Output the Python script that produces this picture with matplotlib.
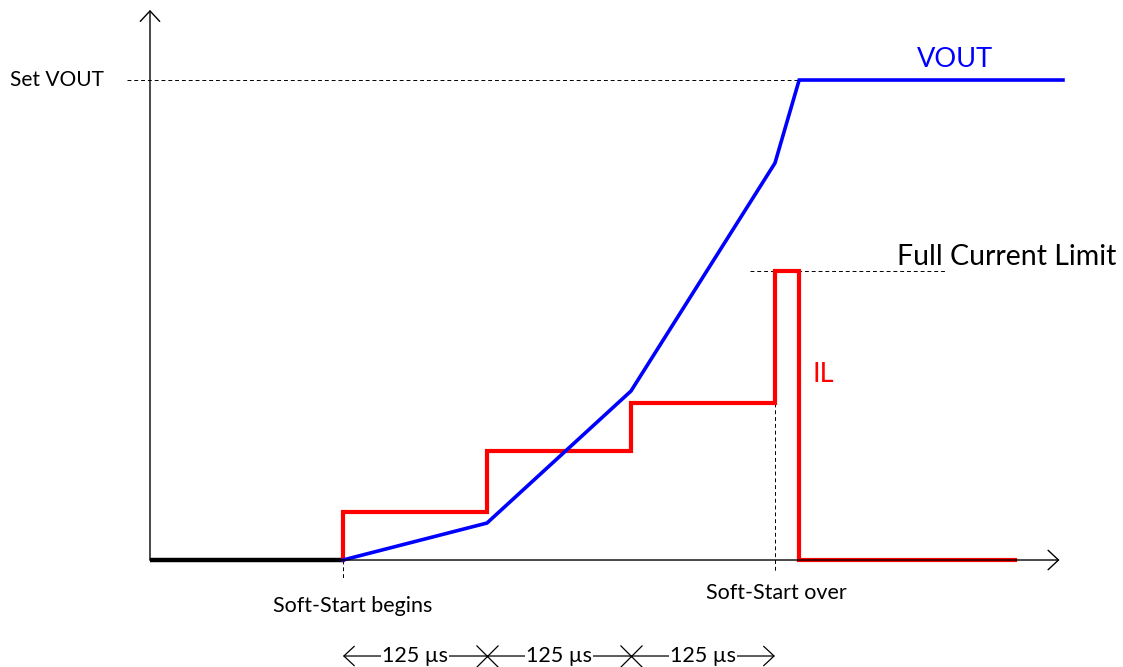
import matplotlib
matplotlib.use("Agg")
import matplotlib.pyplot as plt

# time in microseconds (0 = soft-start begins), voltage/current normalised to Set VOUT
step_us = [0, 125, 250, 375]
t_axis_start = -167.5
t_axis_end = 622

vout_t = [0, 125, 250, 375, 396, 625]
vout_v = [0, 0.077, 0.352, 0.827, 1.0, 1.0]

il_t = [0, 0, 125, 125, 250, 250, 375, 375, 396, 396, 583]
il_v = [0, 0.1, 0.1, 0.227, 0.227, 0.327, 0.327, 0.602, 0.602, 0, 0]

set_vout = 1.0
full_limit = 0.602
y_top = 1.146
scale_y = -0.2
step_labels = ['125 µs', '125 µs', '125 µs']

plt.rcParams['font.family'] = ['Lato', 'DejaVu Sans']

fig = plt.figure(figsize=(11.23, 6.67), dpi=100)
ax = fig.add_axes([0, 0, 1, 1])
ax.set_xlim(-297.7, 677.1)
ax.set_ylim(-0.2229, 1.1667)
ax.axis('off')

head = 'head_length=0.75,head_width=0.7'
arrow = dict(arrowstyle='->,' + head, lw=1, color='black', shrinkA=0, shrinkB=0)
# axes
ax.annotate('', xy=(t_axis_end, 0), xytext=(t_axis_start, 0), arrowprops=arrow)
ax.annotate('', xy=(t_axis_start, y_top), xytext=(t_axis_start, 0), arrowprops=arrow)

# guide lines
dash = dict(ls=(0, (4, 3)), color='black', lw=0.7)
ax.plot([-187.5, 396], [set_vout, set_vout], **dash)
ax.plot([353, 522.6], [full_limit, full_limit], **dash)
ax.plot([0, 0], [0, -0.0375], **dash)
ax.plot([375, 375], [0.327, -0.025], **dash)

# traces
ax.plot([t_axis_start, 0], [0, 0], color='black', lw=3.2, solid_capstyle='butt')
ax.plot(il_t, il_v, color='#ff0000', lw=3, solid_joinstyle='miter')
ax.plot(vout_t, vout_v, color='#0000ff', lw=2.6, solid_joinstyle='miter')

# labels
ax.text(-289, set_vout, 'Set VOUT', fontsize=15, va='center', ha='left')
ax.text(531, 1.042, 'VOUT', fontsize=19.5, color='#0000ff', va='center', ha='center')
ax.text(576.4, 0.631, 'Full Current Limit', fontsize=20.5, va='center', ha='center')
ax.text(416.7, 0.3875, 'IL', fontsize=19.5, color='#ff0000', va='center', ha='center')
ax.text(8.7, -0.096, 'Soft-Start begins', fontsize=15.5, va='center', ha='center')
ax.text(376, -0.069, 'Soft-Start over', fontsize=15.5, va='center', ha='center')

# 125 us scale
ax.annotate('', xy=(step_us[0], scale_y), xytext=(step_us[-1], scale_y),
            arrowprops=dict(arrowstyle='<->,' + head, lw=0.9,
                            color='black', shrinkA=0, shrinkB=0))
ax.plot(step_us[1:-1], [scale_y] * 2, 'x', color='black', ms=16, mew=0.9)
for i, lab in enumerate(step_labels):
    ax.text((step_us[i] + step_us[i + 1]) / 2, scale_y, lab, fontsize=15.5,
            va='center', ha='center', bbox=dict(fc='white', ec='none', pad=0.5))

fig.savefig('out.png', dpi=100)
